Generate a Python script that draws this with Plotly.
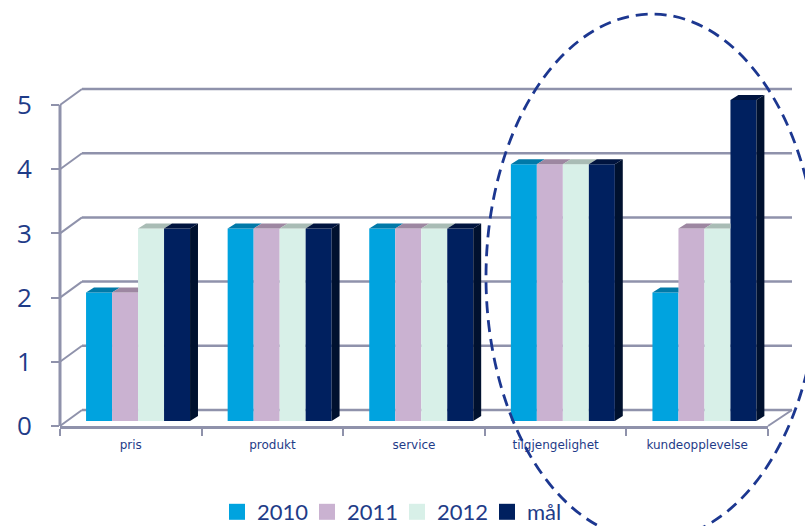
import plotly.graph_objects as go

# data
categories = ["pris", "produkt", "service", "tilgjengelighet", "kundeopplevelse"]
series_names = ["2010", "2011", "2012", "mål"]
v2010 = [2, 3, 3, 4, 2]
v2011 = [2, 3, 3, 4, 3]
v2012 = [3, 3, 3, 4, 3]
maal = [3, 3, 3, 4, 5]
y_ticks = [0, 1, 2, 3, 4, 5]

series_values = [v2010, v2011, v2012, maal]
front_colors = ["#00a3df", "#cab2d1", "#d8f0e8", "#00205f"]
top_colors = ["#0079a8", "#9d87a1", "#a9bcb5", "#00143f"]
side_colors = ["#006a94", "#8a748e", "#95a8a1", "#00112f"]

TEXT = "#1f3c88"
GRID = "#8f92ab"

# pixel layout of the plot area
PLOT_H = 336          # plot area height in px (top margin 90, bottom 100)
PX_PER_UNIT = 64.2
Y_TOP = PLOT_H / PX_PER_UNIT
Y_AX_MAX = max(y_ticks)

# bar geometry (category units) and fake depth
BAR_W = 0.1836
FIRST_OFF = -0.316
DX = 0.056   # depth shift in x (category units)
DY = 0.078   # depth shift in y (value units)

fig = go.Figure()
xs = list(range(len(categories)))

for i, (name, vals) in enumerate(zip(series_names, series_values)):
    fig.add_trace(go.Bar(
        x=xs, y=vals, name=name,
        width=BAR_W, offset=FIRST_OFF + i * BAR_W,
        marker=dict(color=front_colors[i], line=dict(width=0)),
        yaxis="y2", showlegend=False, hoverinfo="skip"
    ))

# top and side faces for the 3d look
for i, vals in enumerate(series_values):
    tx, ty, sx, sy = [], [], [], []
    for c, v in enumerate(vals):
        x0 = c + FIRST_OFF + i * BAR_W
        x1 = x0 + BAR_W
        nxt = series_values[i + 1][c] if i + 1 < len(series_values) else 0
        if nxt > v:
            tx += [x0, x1, x1, x0 + DX, x0, None]
            ty += [v, v, v + DY, v + DY, v, None]
        else:
            tx += [x0, x1, x1 + DX, x0 + DX, x0, None]
            ty += [v, v, v + DY, v + DY, v, None]
        if nxt < v:
            sx += [x1, x1 + DX, x1 + DX, x1, x1, None]
            sy += [nxt, nxt + DY, v + DY, v, nxt, None]
    fig.add_trace(go.Scatter(
        x=tx, y=ty, mode="none", fill="toself", fillcolor=top_colors[i],
        yaxis="y2", showlegend=False, hoverinfo="skip"
    ))
    if sx:
        fig.add_trace(go.Scatter(
            x=sx, y=sy, mode="none", fill="toself", fillcolor=side_colors[i],
            yaxis="y2", showlegend=False, hoverinfo="skip"
        ))

# legend entries
for i, name in enumerate(series_names):
    fig.add_trace(go.Scatter(
        x=[None], y=[None], mode="markers", name=name,
        marker=dict(symbol="square", size=16, color=front_colors[i])
    ))

# back wall grid lines, the little diagonals and the front value axis
shapes = []
bx0 = 22 / 708
bx1 = 732 / 708
by = 16 / PLOT_H
for t in y_ticks:
    yp = t / Y_TOP
    shapes.append(dict(type="line", xref="paper", yref="paper",
                       x0=bx0, x1=bx1, y0=yp + by, y1=yp + by,
                       line=dict(color=GRID, width=2.5), layer="below"))
    shapes.append(dict(type="line", xref="paper", yref="paper",
                       x0=0, x1=bx0, y0=yp, y1=yp + by,
                       line=dict(color=GRID, width=2), layer="below"))
shapes.append(dict(type="line", xref="paper", yref="paper",
                   x0=1, x1=bx1, y0=0, y1=by,
                   line=dict(color=GRID, width=2), layer="below"))
shapes.append(dict(type="line", xref="paper", yref="paper",
                   x0=0, x1=0, y0=0, y1=Y_AX_MAX / Y_TOP,
                   line=dict(color=GRID, width=3), layer="below"))

# dashed ellipse highlight
shapes.append(dict(type="circle", xref="paper", yref="paper",
                   x0=(486 - 60) / 708, x1=(818 - 60) / 708,
                   y0=(426 - 540) / PLOT_H, y1=(426 - 14) / PLOT_H,
                   line=dict(color="#1c3790", width=2.8, dash="12px,7px"),
                   layer="above"))

fig.update_layout(
    width=805, height=526,
    margin=dict(l=60, r=37, t=90, b=100, autoexpand=False),
    paper_bgcolor="white",
    plot_bgcolor="rgba(0,0,0,0)",
    barmode="overlay",
    hovermode=False,
    shapes=shapes,
    xaxis=dict(
        range=[-0.5, 4.5], tickvals=xs, ticktext=categories,
        ticks="", showgrid=False, zeroline=False, automargin=False,
        showline=True, linecolor=GRID, linewidth=3,
        tickfont=dict(family="DejaVu Sans", size=12, color=TEXT),
        ticklabelstandoff=6,
        minor=dict(tickvals=[-0.5, 0.5, 1.5, 2.5, 3.5, 4.5], ticks="outside",
                   ticklen=7, tickwidth=2, tickcolor=GRID, showgrid=False),
    ),
    yaxis=dict(
        range=[0, Y_TOP], tickvals=y_ticks, ticks="outside", ticklen=8,
        tickwidth=2, tickcolor=GRID, showgrid=False, zeroline=False,
        showline=False, automargin=False,
        tickfont=dict(family="Open Sans", size=26, color=TEXT),
        ticklabelstandoff=14,
    ),
    yaxis2=dict(
        overlaying="y", range=[-5 / PX_PER_UNIT, Y_TOP - 5 / PX_PER_UNIT],
        visible=False,
    ),
    legend=dict(
        orientation="h", x=0.476, xanchor="center",
        y=(426 - 512) / PLOT_H, yanchor="middle",
        font=dict(family="Lato", size=22, color=TEXT),
        itemwidth=30, entrywidth=45, bgcolor="rgba(0,0,0,0)",
    ),
)

# page has a default body margin; drop it so the figure sits at the corner
fig.write_html("out.html", config={"displayModeBar": False},
               post_script="document.body.style.margin = '0';")
